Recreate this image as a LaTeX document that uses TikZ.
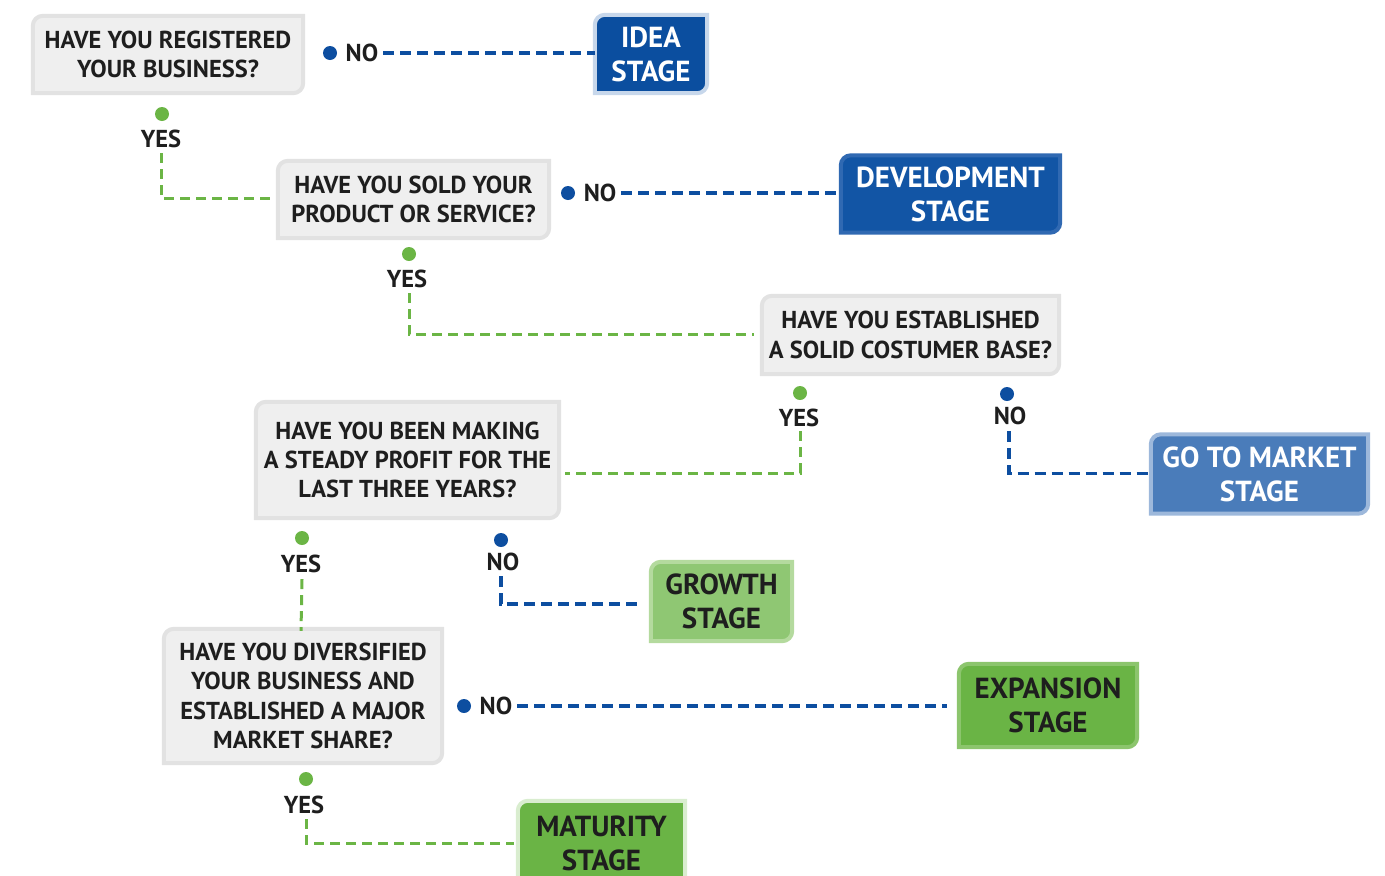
\documentclass[tikz,border=0pt]{standalone}
\usepackage{fontspec}
\setmainfont{PT Sans}
\usetikzlibrary{backgrounds,calc}
\definecolor{qfill}{HTML}{EFEFEF}
\definecolor{qborder}{HTML}{E2E2E2}
\definecolor{txt}{HTML}{1E1E1E}
\definecolor{lblue}{HTML}{0D4EA0}
\definecolor{lgreen}{HTML}{6BB545}
\definecolor{ideafill}{HTML}{0B4E9F}
\definecolor{ideaborder}{HTML}{C7D7EB}
\definecolor{devfill}{HTML}{1255A5}
\definecolor{devborder}{HTML}{3069B2}
\definecolor{gtmfill}{HTML}{4A7CBA}
\definecolor{gtmborder}{HTML}{9DB8DB}
\definecolor{growfill}{HTML}{8FC773}
\definecolor{growborder}{HTML}{B4DA9E}
\definecolor{expfill}{HTML}{6AB445}
\definecolor{expborder}{HTML}{8CC56D}
\definecolor{matfill}{HTML}{6AB445}
\definecolor{matborder}{HTML}{D9EDCF}
\newcommand\leaf[3]{%
  \begin{scope}[on background layer]
  \filldraw[fill=#2, draw=#3, line width=4pt]
    ([yshift=-10pt]#1.north west) arc[start angle=180,end angle=90,radius=10pt]
    -- (#1.north east) -- ([yshift=10pt]#1.south east)
    arc[start angle=0,end angle=-90,radius=10pt] -- (#1.south west) -- cycle;
  \end{scope}}
\begin{document}
\begin{tikzpicture}[x=1pt,y=-1pt,
  qbox/.style={inner sep=0pt, align=center, text=txt,
    font=\fontsize{24.5}{29.3}\selectfont\bfseries},
  stagebox/.style={inner sep=0pt, align=center,
    font=\fontsize{29}{34}\selectfont\bfseries},
  lbl/.style={inner sep=0pt, text=txt, font=\fontsize{24.5}{26}\selectfont\bfseries},
  gdash/.style={draw=lgreen, line width=3pt, dash pattern=on 10pt off 6pt},
  bdash/.style={draw=lblue, line width=3.3pt, dash pattern=on 11pt off 6pt},
  gdot/.style={circle, fill=lgreen, minimum size=14pt, inner sep=0pt},
  bdot/.style={circle, fill=lblue, minimum size=14pt, inner sep=0pt}]
\useasboundingbox (0,0) rectangle (1385,876);

% question boxes
\node[qbox, minimum width=270pt, minimum height=77pt] (q1) at (168,54.5)
  {HAVE YOU REGISTERED\\YOUR BUSINESS?};
\leaf{q1}{qfill}{qborder}
\node[qbox, minimum width=271pt, minimum height=77pt] (q2) at (413.5,199.5)
  {HAVE YOU SOLD YOUR\\PRODUCT OR SERVICE?};
\leaf{q2}{qfill}{qborder}
\node[qbox, minimum width=297pt, minimum height=78pt] (q3) at (910.5,335)
  {HAVE YOU ESTABLISHED\\A SOLID COSTUMER BASE?};
\leaf{q3}{qfill}{qborder}
\node[qbox, minimum width=303pt, minimum height=116pt] (q4) at (407.5,460)
  {HAVE YOU BEEN MAKING\\A STEADY PROFIT FOR THE\\LAST THREE YEARS?};
\leaf{q4}{qfill}{qborder}
\node[qbox, minimum width=278pt, minimum height=134pt] (q5) at (303,696)
  {HAVE YOU DIVERSIFIED\\YOUR BUSINESS AND\\ESTABLISHED A MAJOR\\MARKET SHARE?};
\leaf{q5}{qfill}{qborder}

% stage boxes
\node[stagebox, text=white, minimum width=112pt, minimum height=78pt] (idea) at (651,54)
  {IDEA\\STAGE};
\leaf{idea}{ideafill}{ideaborder}
\node[stagebox, text=white, minimum width=219pt, minimum height=77pt] (dev) at (950.5,194)
  {DEVELOPMENT\\STAGE};
\leaf{dev}{devfill}{devborder}
\node[stagebox, text=white, minimum width=217pt, minimum height=79pt] (gtm) at (1259.5,474)
  {GO TO MARKET\\STAGE};
\leaf{gtm}{gtmfill}{gtmborder}
\node[stagebox, text=txt, minimum width=141pt, minimum height=79pt] (grow) at (721.5,601.5)
  {GROWTH\\STAGE};
\leaf{grow}{growfill}{growborder}
\node[stagebox, text=txt, minimum width=178pt, minimum height=83pt] (exp) at (1048,705.5)
  {EXPANSION\\STAGE};
\leaf{exp}{expfill}{expborder}
\node[stagebox, text=txt, minimum width=167pt, minimum height=84pt] (mat) at (601.5,843)
  {MATURITY\\STAGE};
\leaf{mat}{matfill}{matborder}

% Q1 -> NO -> idea
\node[bdot] (d1n) at (330,53) {};
\node[lbl] (n1) at (362,53) {NO};
\draw[bdash] ([xshift=5pt]n1.east) -- (n1.east -| idea.west);
% Q1 -> YES -> Q2
\node[gdot] (d1y) at (162,114) {};
\node[lbl] (y1) at (161,139) {YES};
\draw[gdash] ([yshift=-5pt]y1.south) |- ([xshift=-6pt,yshift=1.5pt]q2.west);

% Q2 -> NO -> dev
\node[bdot] (d2n) at (568,193) {};
\node[lbl] (n2) at (600,193) {NO};
\draw[bdash] ([xshift=5pt]n2.east) -- (n2.east -| dev.west);
% Q2 -> YES -> Q3
\node[gdot] (d2y) at (409,254) {};
\node[lbl] (y2) at (407,279) {YES};
\draw[gdash] ([xshift=2pt,yshift=-5pt]y2.south) |- ([xshift=-8pt,yshift=1pt]q3.west);

% Q3 -> YES -> Q4
\node[gdot] (d3y) at (800,393) {};
\node[lbl] (y3) at (799,418) {YES};
\draw[gdash] ([xshift=1pt,yshift=-4pt]y3.south) |- ([xshift=6pt,yshift=-13pt]q4.east);
% Q3 -> NO -> go to market
\node[bdot] (d3n) at (1007,394) {};
\node[lbl] (n3) at (1010,416) {NO};
\draw[bdash] ([xshift=-1pt,yshift=-6pt]n3.south) |- ([xshift=-3pt,yshift=0.5pt]gtm.west);

% Q4 -> YES -> Q5
\node[gdot] (d4y) at (302,538) {};
\node[lbl] (y4) at (301,564) {YES};
\draw[gdash] ([xshift=1pt,yshift=-6pt]y4.south) -- ([yshift=-2pt]y4.south |- q5.north);
% Q4 -> NO -> growth
\node[bdot] (d4n) at (501,540) {};
\node[lbl] (n4) at (503,562) {NO};
\draw[bdash] ([xshift=-2pt,yshift=-5pt]n4.south) |- ([xshift=-9pt,yshift=-2.5pt]grow.west);

% Q5 -> NO -> expansion
\node[bdot] (d5n) at (464,706) {};
\node[lbl] (n5) at (496,706) {NO};
\draw[bdash] ([xshift=5pt]n5.east) -- ([xshift=-12pt]n5.east -| exp.west);
% Q5 -> YES -> maturity
\node[gdot] (d5y) at (306,779) {};
\node[lbl] (y5) at (304,805) {YES};
\draw[gdash] ([xshift=2pt,yshift=-5pt]y5.south) |- ([xshift=-4pt,yshift=0pt]mat.west);
\end{tikzpicture}
\end{document}
